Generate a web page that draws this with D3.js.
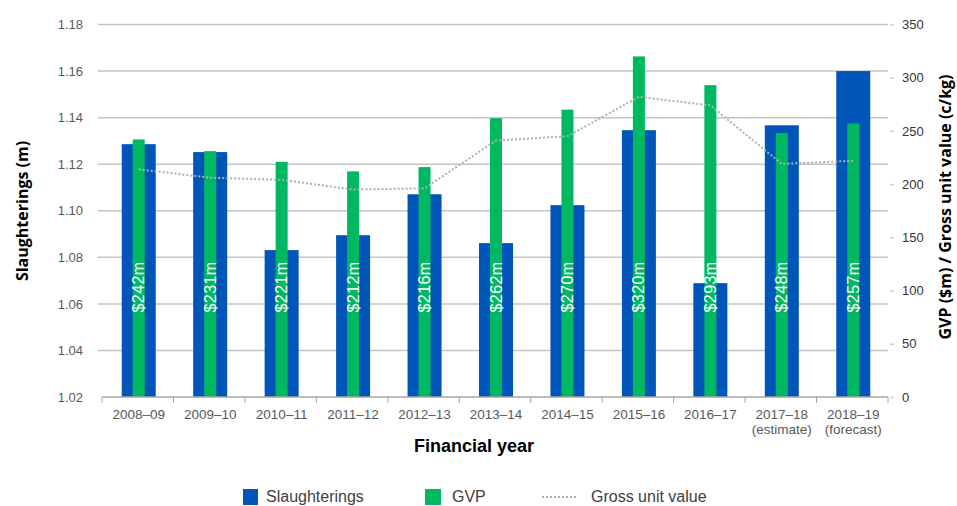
<!DOCTYPE html>
<html>
<head>
<meta charset="utf-8">
<script src="https://cdn.jsdelivr.net/npm/d3@7"></script>
<style>
  html, body { margin: 0; padding: 0; background: #fff; }
  svg { display: block; }
</style>
</head>
<body>
<svg id="chart" width="957" height="506"></svg>
<script>
// Financial years and their (optional) second label line
const years = ["2008–09", "2009–10", "2010–11", "2011–12", "2012–13", "2013–14",
               "2014–15", "2015–16", "2016–17", "2017–18", "2018–19"];
const yearNotes = ["", "", "", "", "", "", "", "", "", "(estimate)", "(forecast)"];

// Slaughterings (million head) — left axis
const slaughterings = [1.1286, 1.1252, 1.0831, 1.0895, 1.1071, 1.0861,
                       1.1024, 1.1346, 1.0689, 1.1367, 1.1600];
// Gross value of production ($m) — right axis
const gvp = [242, 231, 221, 212, 216, 262, 270, 320, 293, 248, 257];
// Gross unit value (c/kg) — right axis
const grossUnitValue = [214, 206, 204, 195, 196, 241, 245, 282, 274, 219, 222];

// Axis ticks
const leftTicks = [1.02, 1.04, 1.06, 1.08, 1.10, 1.12, 1.14, 1.16, 1.18];
const rightTicks = [0, 50, 100, 150, 200, 250, 300, 350];

const BLUE = "#0056b8";
const GREEN = "#00b862";
const GRID = "#c4c4c4";
const TEXT = "#595959";
const SANS = "'Liberation Sans', Arial, sans-serif";
const TITLE = "'Open Sans', sans-serif";

const svg = d3.select("#chart");
const plot = { left: 102, right: 888, top: 24.5, bottom: 397 };

const x = d3.scaleBand().domain(years).range([plot.left, plot.right]).padding(0);
const yL = d3.scaleLinear().domain([1.02, 1.18]).range([plot.bottom, plot.top]);
const yR = d3.scaleLinear().domain([0, 350]).range([plot.bottom, plot.top]);

const bw = x.bandwidth();
const blueW = bw * 0.476;
const greenW = bw * 0.168;
const cx = d => x(d) + bw / 2 + 1;

// Horizontal gridlines from the left axis ticks
svg.append("g")
  .selectAll("line")
  .data(leftTicks.slice(1))
  .join("line")
  .attr("x1", plot.left - 4).attr("x2", plot.right)
  .attr("y1", d => yL(d)).attr("y2", d => yL(d))
  .attr("stroke", GRID).attr("stroke-width", 1.5);

// Left axis
const leftAxis = svg.append("g")
  .attr("transform", `translate(${plot.left},0)`)
  .call(d3.axisLeft(yL).tickValues(leftTicks).tickFormat(d3.format(".2f")).tickSize(0).tickPadding(19));
leftAxis.select(".domain").remove();
leftAxis.selectAll("text")
  .attr("fill", TEXT).style("font-family", SANS).style("font-size", "13px");

// Right axis
const rightAxis = svg.append("g")
  .attr("transform", `translate(${plot.right},0)`)
  .call(d3.axisRight(yR).tickValues(rightTicks).tickSize(6).tickPadding(8));
rightAxis.select(".domain").remove();
rightAxis.selectAll("line").attr("stroke", "#d0d0d0").attr("stroke-width", 1.5).attr("x1", 2);
rightAxis.selectAll("text")
  .attr("fill", "#333").style("font-family", SANS).style("font-size", "13px");

// Slaughterings bars (blue, wide)
svg.append("g")
  .selectAll("rect")
  .data(years)
  .join("rect")
  .attr("x", (d) => cx(d) - blueW / 2)
  .attr("width", blueW)
  .attr("y", (d, i) => yL(slaughterings[i]))
  .attr("height", (d, i) => plot.bottom - yL(slaughterings[i]))
  .attr("fill", BLUE);

// GVP bars (green, narrow)
svg.append("g")
  .selectAll("rect")
  .data(years)
  .join("rect")
  .attr("x", (d) => cx(d) - greenW / 2)
  .attr("width", greenW)
  .attr("y", (d, i) => yR(gvp[i]))
  .attr("height", (d, i) => plot.bottom - yR(gvp[i]))
  .attr("fill", GREEN);

// X axis line with ticks at band edges
svg.append("line")
  .attr("x1", plot.left).attr("x2", plot.right)
  .attr("y1", plot.bottom).attr("y2", plot.bottom)
  .attr("stroke", "#a6a6a6").attr("stroke-width", 1.5);
const edges = years.map(d => x(d)).concat([plot.right]);
svg.append("g")
  .selectAll("line")
  .data(edges)
  .join("line")
  .attr("x1", d => d).attr("x2", d => d)
  .attr("y1", plot.bottom).attr("y2", plot.bottom + 6)
  .attr("stroke", "#a6a6a6").attr("stroke-width", 1);

// Gross unit value dotted line
const line = d3.line()
  .x((d, i) => cx(years[i]))
  .y(d => yR(d));
svg.append("path")
  .datum(grossUnitValue)
  .attr("d", line)
  .attr("fill", "none")
  .attr("stroke", "#b0b0b0")
  .attr("stroke-width", 2)
  .attr("stroke-dasharray", "2,2");

// GVP value labels inside the bars
svg.append("g")
  .selectAll("text")
  .data(years)
  .join("text")
  .attr("transform", d => `translate(${cx(d) + 5.5},287) rotate(-90)`)
  .attr("text-anchor", "middle")
  .attr("fill", "#fff")
  .style("font-family", SANS)
  .style("font-size", "16px")
  .style("letter-spacing", "0.4px")
  .text((d, i) => `$${gvp[i]}m`);

// Category labels
const xl = svg.append("g")
  .selectAll("text")
  .data(years)
  .join("text")
  .attr("x", d => cx(d))
  .attr("y", 419)
  .attr("text-anchor", "middle")
  .attr("fill", TEXT)
  .style("font-family", SANS)
  .style("font-size", "13.5px");
xl.append("tspan").attr("x", d => cx(d)).text(d => d);
xl.append("tspan").attr("x", d => cx(d)).attr("dy", 15).text((d, i) => yearNotes[i]);

// Axis titles
svg.append("text")
  .attr("x", 474).attr("y", 452)
  .attr("text-anchor", "middle")
  .attr("fill", "#000")
  .style("font-family", SANS)
  .style("font-size", "18px").style("font-weight", "bold")
  .text("Financial year");

svg.append("text")
  .attr("transform", "translate(28,211) rotate(-90)")
  .attr("text-anchor", "middle")
  .attr("fill", "#000")
  .style("font-family", TITLE)
  .style("font-size", "16px").style("font-weight", "bold")
  .text("Slaughterings (m)");

svg.append("text")
  .attr("transform", "translate(951,207) rotate(-90)")
  .attr("text-anchor", "middle")
  .attr("fill", "#000")
  .style("font-family", TITLE)
  .style("font-size", "16px").style("font-weight", "bold")
  .text("GVP ($m) / Gross unit value (c/kg)");

// Legend
const legend = svg.append("g").style("font-family", SANS).style("font-size", "16px");
legend.append("rect").attr("x", 243).attr("y", 489).attr("width", 15).attr("height", 16).attr("fill", BLUE);
legend.append("text").attr("x", 266).attr("y", 502).attr("fill", "#404040").text("Slaughterings");
legend.append("rect").attr("x", 425).attr("y", 489).attr("width", 16).attr("height", 16).attr("fill", GREEN);
legend.append("text").attr("x", 452).attr("y", 502).attr("fill", "#404040").text("GVP");
legend.append("line").attr("x1", 542).attr("x2", 577).attr("y1", 497).attr("y2", 497)
  .attr("stroke", "#b0b0b0").attr("stroke-width", 2).attr("stroke-dasharray", "2,2");
legend.append("text").attr("x", 591).attr("y", 502).attr("fill", "#404040").text("Gross unit value");
</script>
</body>
</html>
